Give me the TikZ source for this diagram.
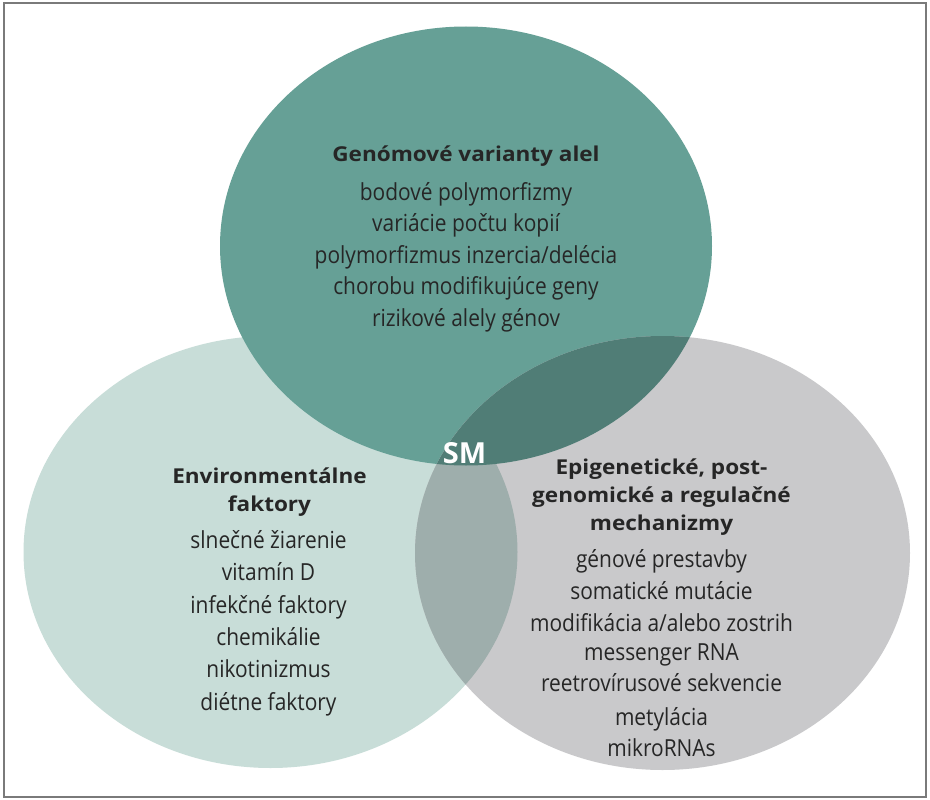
\documentclass[tikz,border=0pt]{standalone}
\usepackage{fontspec}
\setmainfont{Open Sans}
\newfontfamily\listfont[FakeStretch=0.89]{Open Sans}
\newfontfamily\headfont[FakeStretch=1.1]{Open Sans}
\newfontfamily\smfont{Open Sans}
\definecolor{topc}{HTML}{66A096}
\definecolor{leftc}{HTML}{C8DDD8}
\definecolor{rightc}{HTML}{C9C9CB}
\definecolor{lrc}{HTML}{9EAEAC}
\definecolor{trc}{HTML}{507D76}
\definecolor{txt}{HTML}{262626}
\definecolor{framec}{HTML}{7A7A7A}
\tikzset{
  item/.style={inner sep=0pt, anchor=base, text=txt, font=\listfont\fontsize{23.5}{28}\selectfont},
  head/.style={inner sep=0pt, anchor=base, text=txt, font=\headfont\bfseries\fontsize{20.5}{24}\selectfont},
  smlabel/.style={inner sep=0pt, anchor=base, text=white, font=\smfont\bfseries\fontsize{29}{32}\selectfont},
  frame/.style={draw=framec, line width=2pt}
}
\begin{document}
\begin{tikzpicture}[x=1pt,y=-1pt]
\useasboundingbox (0,0) rectangle (930,800);
\fill[white] (0,0) rectangle (930,800);
% circles
\fill[leftc] (270.5,552) ellipse [x radius=247, y radius=216];
\fill[topc] (466,246) ellipse [x radius=246, y radius=219.5];
\fill[rightc] (662.5,553) ellipse [x radius=247.5, y radius=217];
\begin{scope}
  \clip (662.5,553) ellipse [x radius=247.5, y radius=217];
  \fill[lrc] (270.5,552) ellipse [x radius=247, y radius=216];
  \fill[trc] (466,246) ellipse [x radius=246, y radius=219.5];
\end{scope}
\draw[frame] (3.5,3.5) rectangle (926,797);
% top block
\node[head] (gh) at (466,161.7) {Genómové varianty alel};
\foreach \t [count=\i] in {bodové polymorfizmy, variácie počtu kopií, polymorfizmus inzercia/delécia, chorobu modifikujúce geny, rizikové alely génov}
  \node[item] (g\i) at (466,{200+31.5*(\i-1)}) {\t};
% left block
\node[head] (eh1) at (269.5,483.3) {Environmentálne};
\node[head] (eh2) at (269.5,511.7) {faktory};
\foreach \t [count=\i] in {slnečné žiarenie, vitamín D, infekčné faktory, chemikálie, nikotinizmus, diétne faktory}
  \node[item] (e\i) at (268.5,{548.5+32.3*(\i-1)}) {\t};
% right block
\node[head] (ph1) at (661.5,474.3) {Epigenetické, post-};
\node[head] (ph2) at (661.5,502.7) {genomické a regulačné};
\node[head] (ph3) at (661.5,530.7) {mechanizmy};
\node[item] (p1) at (661.5,567.7) {génové prestavby};
\node[item] (p2) at (661.5,599.3) {somatické mutácie};
\node[item] (p3) at (661.5,631.7) {modifikácia a/alebo zostrih};
\node[item] (p4) at (661.5,660) {messenger RNA};
\node[item] (p5) at (661.5,691.7) {reetrovírusové sekvencie};
\node[item] (p6) at (661.5,725) {metylácia};
\node[item] (p7) at (661.5,756) {mikroRNAs};
% center
\node[smlabel] (sm) at (464.5,463.3) {SM};
\end{tikzpicture}
\end{document}
